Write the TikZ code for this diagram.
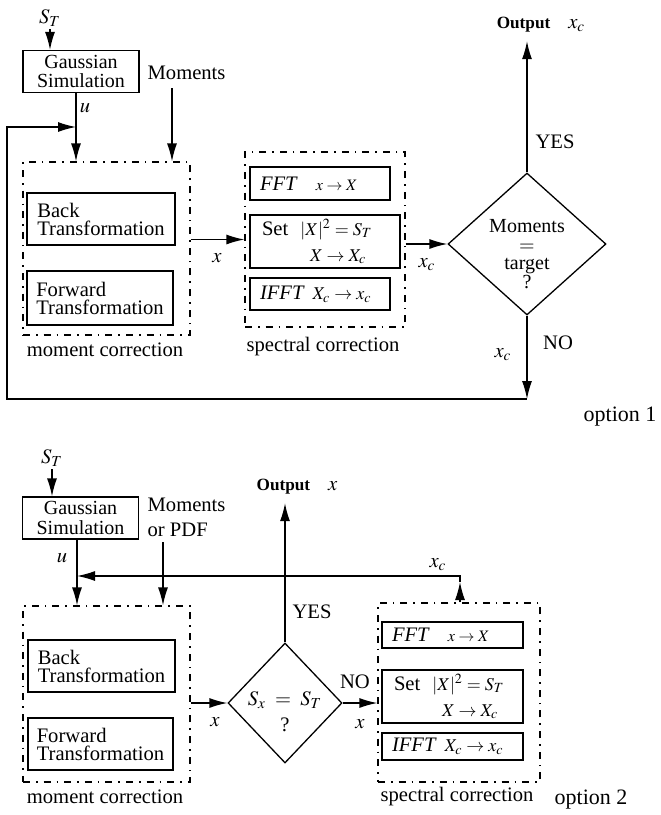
\documentclass[tikz,border=0pt]{standalone}
\usepackage{mathptmx}
\usepackage{fontspec}
\setmainfont{Liberation Serif}
\usetikzlibrary{arrows.meta,positioning,shapes.geometric}

\begin{document}
\begin{tikzpicture}[
  x=0.5pt,y=-0.5pt,
  font=\fontsize{10.3}{9}\selectfont,
  line width=0.65pt,
  box/.style={draw,inner sep=0pt,align=left},
  gbox/.style={draw,inner sep=0pt,align=center,minimum width=58pt,minimum height=21pt,font=\fontsize{10}{9.6}\selectfont},
  opbox/.style={draw,inner ysep=0pt,inner xsep=5pt,align=left,text width=60pt},
  corr/.style={draw,dash pattern=on 3.5pt off 3pt on 0.8pt off 3pt,inner sep=0pt},
  test/.style={draw,diamond,inner sep=0pt},
  arr/.style={-{Latex[length=9pt,width=5pt]}},
  lbl/.style={inner sep=1pt}
]
\useasboundingbox (0,0) rectangle (660,815);

% option 1
\node[lbl] (st1) at (50,18) {$S_T$};
\node[gbox] (gauss1) at (81,71.5) {Gaussian\\Simulation};
\node[lbl,anchor=west] (mlbl1) at (145,73) {Moments};
\node[corr,minimum width=83.5pt,minimum height=86.5pt] (mom1) at (106.5,248.5) {};
\node[box,minimum width=74pt,minimum height=26pt] (back1) at (101,219) {Back\\Transformation};
\node[box,minimum width=73pt,minimum height=27pt] (fwd1) at (100,298) {Forward\\Transformation};
\node[lbl] (mc1) at (105,350) {moment correction};
\node[corr,minimum width=80pt,minimum height=87.5pt] (spec1) at (325,239.5) {};
\node[opbox,minimum height=16.5pt] (fft1) at (320,183.5) {\textit{FFT}\hspace{9pt}{\footnotesize$x\to X$}};
\node[opbox,inner xsep=6pt,text width=63pt,minimum height=26.5pt,font=\fontsize{10.3}{13}\selectfont] (set1) at (325,241.5)
  {Set\hspace{6pt}{\small$|X|^2=S_T$}\\\hspace{24pt}{\small$X\to X_c$}};
\node[opbox,minimum height=16pt] (ifft1) at (320,294) {\textit{IFFT}\hspace{4pt}{\small$X_c\to x_c$}};
\node[lbl] (sc1) at (323,347) {spectral correction};
\node[test,minimum width=79pt,minimum height=71pt] (dia1) at (527,244) {};
\node[lbl,align=center,font=\fontsize{10}{9.4}\selectfont] (dia1txt) at (527,254) {Moments\\$=$\\target\\?};
\node[lbl] (out1) at (541,25) {\textbf{\fontsize{8.6}{9}\selectfont Output}\hspace{9pt}$x_c$};
\node[lbl] (yes1) at (555,142) {YES};
\node[lbl] (no1) at (558,343) {NO};
\node[lbl] (xc1b) at (503,355) {$x_c$};
\node[lbl] (u1) at (85,108) {$u$};
\node[lbl] (x1) at (217,258) {$x$};
\node[lbl] (xc1a) at (427,265) {$x_c$};
\node[lbl,font=\fontsize{11}{12}\selectfont] (opt1) at (620,417) {option 1};
\coordinate (join1) at (76,127);
\coordinate (m1) at (172,88);
\coordinate (loop1) at (527,399);
\coordinate (left1) at (7,399);

\draw[arr] (st1) -- (st1 |- gauss1.north);
\draw[arr] (gauss1.south -| join1) -- (join1 |- mom1.north);
\draw[arr] (m1) -- (m1 |- mom1.north);
\draw[arr] (mom1.east |- spec1.west) -- (spec1.west);
\draw[arr] (spec1.east |- dia1.west) -- (dia1.west);
\draw[arr] (dia1.north) -- ([yshift=-3pt]out1.south -| dia1.north);
\draw[arr] (dia1.south) -- (loop1);
\draw[arr] (loop1) -- (left1) |- (join1);

% option 2
\node[lbl] (st2) at (52,458) {$S_T$};
\node[gbox] (gauss2) at (80.5,518) {Gaussian\\Simulation};
\node[lbl,anchor=west,align=left,font=\fontsize{10.3}{12.5}\selectfont] (mlbl2) at (145,517) {Moments\\or PDF};
\node[corr,minimum width=83.5pt,minimum height=88pt] (mom2) at (106.5,694) {};
\node[box,minimum width=73.5pt,minimum height=26pt] (back2) at (101.5,666) {Back\\Transformation};
\node[box,minimum width=72.5pt,minimum height=26pt] (fwd2) at (100.5,744) {Forward\\Transformation};
\node[lbl] (mc2) at (105,797) {moment correction};
\node[test,minimum width=57pt,minimum height=60pt] (dia2) at (285,703) {};
\node[lbl,align=center,font=\fontsize{10.3}{13}\selectfont] (dia2txt) at (285,712) {$S_x\;=\;S_T$\\?};
\node[corr,minimum width=81pt,minimum height=89.5pt] (spec2) at (459,692.5) {};
\node[opbox,inner xsep=5pt,text width=60.5pt,minimum height=13pt] (fft2) at (452.5,635) {\textit{FFT}\hspace{9pt}{\footnotesize$x\to X$}};
\node[opbox,inner xsep=6pt,text width=58.5pt,minimum height=26.5pt,font=\fontsize{10.3}{13}\selectfont] (set2) at (452.5,696.5)
  {Set\hspace{6pt}{\small$|X|^2=S_T$}\\\hspace{24pt}{\small$X\to X_c$}};
\node[opbox,inner xsep=5pt,text width=60.5pt,minimum height=13.5pt] (ifft2) at (452.5,746.5) {\textit{IFFT}\hspace{4pt}{\small$X_c\to x_c$}};
\node[lbl] (sc2) at (457,797) {spectral correction};
\node[lbl] (out2) at (297,487) {\textbf{\fontsize{8.6}{9}\selectfont Output}\hspace{9pt}$x$};
\node[lbl] (yes2) at (312,612) {YES};
\node[lbl] (no2) at (355,682) {NO};
\node[lbl] (u2) at (62,558) {$u$};
\node[lbl] (x2a) at (215,722) {$x$};
\node[lbl] (x2b) at (360,724) {$x$};
\node[lbl] (xc2) at (438,565) {$x_c$};
\node[lbl,font=\fontsize{11}{12}\selectfont] (opt2) at (591,800) {option 2};
\coordinate (join2) at (77,576);
\coordinate (m2) at (163,542);
\coordinate (tip2) at (460,582);
\coordinate (corner2) at (460,576);

\draw[arr] (st2) -- (st2 |- gauss2.north);
\draw[arr] (gauss2.south -| join2) -- (join2 |- mom2.north);
\draw[arr] (m2) -- (m2 |- mom2.north);
\draw[arr] (mom2.east |- dia2.west) -- (dia2.west);
\draw[arr] (dia2.east) -- (dia2.east -| spec2.west);
\draw[arr] (dia2.north) -- ([yshift=-3pt]out2.south -| dia2.north);
\draw[arr] (spec2.north -| tip2) -- (tip2);
\draw[arr] (tip2) -- (corner2) -- (join2);
\end{tikzpicture}
\end{document}
